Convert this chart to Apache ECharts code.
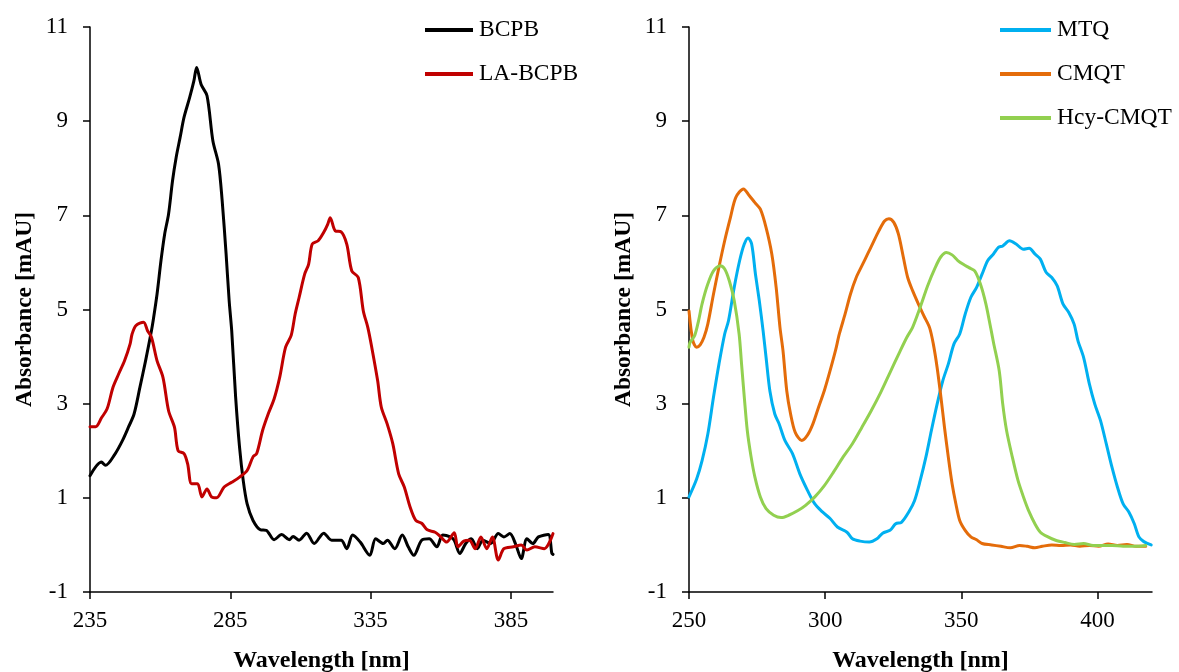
<!DOCTYPE html>
<html>
<head>
<meta charset="utf-8">
<script src="https://cdn.jsdelivr.net/npm/echarts@6/dist/echarts.min.js"></script>
<style>html,body{margin:0;padding:0;background:#fff}#c{width:1179px;height:672px}</style>
</head>
<body>
<div id="c"></div>
<script>
// ---- data (wavelength nm, absorbance mAU) ----
const leftNames = ['BCPB', 'LA-BCPB'];
const rightNames = ['MTQ', 'CMQT', 'Hcy-CMQT'];
const yTicks = [-1, 1, 3, 5, 7, 9, 11];
const leftXTicks = [235, 285, 335, 385];
const rightXTicks = [250, 300, 350, 400];

const bcpb = [[235,1.47],[239.1,1.76],[240.5,1.69],[243.9,1.93],[246.6,2.22],[248.7,2.5],[250.7,2.78],[252.8,3.35],[254.8,3.91],[256.9,4.55],[257.5,4.76],[258.9,5.33],[260.3,6.04],[261.6,6.6],[263,7.03],[264.4,7.73],[265.7,8.23],[267.1,8.65],[268.5,9.08],[270.5,9.5],[272,9.85],[273,10.14],[274.6,9.78],[276.7,9.54],[278.8,8.58],[280.8,8.09],[282.1,7.31],[283.5,6.18],[284.6,5.18],[285.5,4.55],[286.9,3.14],[288.3,2.07],[289.6,1.37],[291,0.87],[293.1,0.52],[295.8,0.32],[297.8,0.31],[300.6,0.11],[303.3,0.22],[306,0.11],[307.4,0.18],[309.5,0.1],[312.2,0.25],[314.9,0.03],[318.3,0.25],[321.1,0.1],[324.5,0.1],[326.5,-0.08],[328.6,0.21],[331.3,0.06],[334.7,-0.22],[336.8,0.13],[339.5,0.03],[341,0.1],[343.6,-0.08],[346.3,0.21],[348.4,-0.04],[350.4,-0.22],[353.2,0.1],[355.9,0.13],[358.6,-0.04],[360.7,0.21],[363.4,0.17],[364.8,0.1],[366.8,-0.18],[368.9,0.03],[370.9,0.13],[373,-0.08],[375,0.1],[377.8,0.03],[380.5,0.24],[382.5,0.17],[384.6,0.24],[386.6,0.03],[388.7,-0.29],[390.7,0.13],[392.8,0.03],[394.8,0.17],[398.3,0.22],[399.6,-0.18],[400,-0.2]];

const laBcpb = [[235,2.51],[237,2.51],[239.1,2.7],[241.1,2.89],[243.2,3.35],[245.2,3.63],[247.3,3.91],[249.3,4.27],[250,4.48],[251.4,4.66],[254.1,4.73],[255.5,4.55],[256.9,4.41],[258.9,3.91],[261,3.56],[263,2.85],[265.1,2.5],[266.4,2.0],[268.5,1.94],[269.8,1.72],[271.2,1.3],[273.3,1.3],[274.9,1.02],[276.7,1.19],[278.3,1.02],[280.1,1.0],[282.8,1.23],[285.5,1.33],[288.3,1.44],[291,1.58],[293.1,1.87],[294.4,1.94],[296.5,2.43],[298.5,2.78],[300.6,3.1],[302.6,3.56],[304.7,4.2],[306.7,4.45],[308.1,4.9],[309.5,5.25],[311.5,5.75],[312.9,5.96],[314.2,6.39],[316.3,6.46],[318.3,6.64],[319.7,6.81],[320.6,6.95],[322.4,6.67],[324.5,6.65],[326.5,6.39],[328.3,5.82],[330.6,5.68],[332.4,4.97],[334,4.62],[335.4,4.2],[337.5,3.49],[338.8,2.93],[340.9,2.57],[342.9,2.15],[345,1.51],[347,1.23],[349.1,0.8],[351.1,0.52],[353.2,0.46],[355.2,0.32],[358,0.27],[360,0.17],[362.1,0.06],[364.8,0.26],[366.1,-0.04],[368.2,0.08],[370.2,0.1],[372.3,-0.08],[374.3,0.17],[376.4,-0.08],[378.4,0.17],[380.5,-0.32],[382.5,-0.08],[385.9,-0.04],[388.7,0],[390.7,-0.11],[393.5,-0.04],[396.9,-0.08],[400,0.24]];

const mtq = [[250,1.02],[252.8,1.4],[254.8,1.79],[256.9,2.35],[259,3.14],[261,3.84],[263.1,4.48],[264.5,4.76],[266.6,5.47],[268.6,6.04],[270.3,6.39],[271.7,6.52],[273,6.39],[274.4,5.75],[275.8,5.19],[277.2,4.55],[278.3,3.98],[279.7,3.27],[281.5,2.78],[283.1,2.57],[285.2,2.22],[288,1.94],[290.7,1.51],[293.5,1.16],[296.2,0.87],[299,0.7],[301.8,0.56],[304.5,0.38],[308,0.27],[310,0.13],[312.8,0.08],[316.2,0.06],[319,0.13],[321.1,0.25],[323.8,0.31],[325.9,0.45],[328,0.48],[330.7,0.7],[332.8,0.94],[334.9,1.37],[337,1.87],[339,2.43],[341.1,2.99],[343.2,3.49],[345.2,3.84],[347.3,4.27],[349.4,4.48],[351.4,4.9],[353.5,5.26],[355.6,5.47],[357.6,5.75],[359.7,6.04],[361.8,6.18],[363.6,6.32],[365.2,6.35],[367.7,6.46],[370.1,6.39],[372.8,6.28],[374.9,6.3],[377,6.18],[379,6.07],[381.1,5.79],[383.2,5.68],[385.2,5.5],[387.3,5.12],[389.4,4.94],[391.4,4.69],[392.8,4.34],[394.9,3.98],[397,3.42],[399,2.99],[401.1,2.64],[403.2,2.15],[405.3,1.65],[407.3,1.23],[409.4,0.87],[411.5,0.7],[413.5,0.45],[415.2,0.17],[417,0.07],[419.7,0.0]];

const cmqt = [[250,4.97],[251.4,4.34],[252.8,4.2],[254.1,4.25],[255.5,4.41],[256.9,4.69],[259,5.33],[261,5.9],[263.1,6.46],[265.2,6.95],[267.2,7.38],[270,7.56],[272.1,7.42],[274.2,7.27],[276.2,7.13],[278.3,6.74],[280.4,6.18],[282,5.47],[283.4,4.62],[284.5,4.13],[285.9,3.27],[287.3,2.78],[289,2.39],[291.4,2.22],[293.5,2.33],[295.5,2.57],[297.6,2.93],[299.7,3.28],[301.8,3.7],[303.8,4.13],[305.2,4.48],[307.3,4.9],[309.3,5.33],[311.4,5.68],[313.5,5.93],[315.6,6.18],[317.6,6.42],[319.7,6.67],[321.8,6.88],[323.4,6.93],[325.2,6.85],[326.9,6.6],[328.7,6.11],[330.3,5.68],[332.1,5.4],[334.2,5.12],[336.2,4.87],[338.3,4.62],[339.7,4.27],[341.1,3.77],[342.5,3.14],[343.8,2.5],[345.2,1.87],[346.6,1.3],[348,0.87],[349.4,0.52],[351.4,0.31],[353.5,0.17],[355.6,0.11],[357.6,0.03],[361.1,0.0],[364.5,-0.03],[368,-0.06],[371.4,-0.01],[374.2,-0.03],[377,-0.06],[379.7,-0.03],[383.2,0],[386.6,-0.01],[390.1,0],[393.5,-0.03],[397,-0.01],[400.4,-0.03],[403.9,0.02],[407.3,-0.01],[410.8,0.01],[414.2,-0.03],[417.7,-0.03]];

const hcyCmqt = [[250,4.2],[250.4,4.3],[252.1,4.45],[253.5,4.76],[254.8,5.12],[256.9,5.54],[259,5.82],[261.5,5.93],[263.1,5.86],[264.8,5.61],[266.6,5.19],[268.4,4.48],[269.3,3.84],[270.3,3.14],[271.4,2.43],[272.8,1.87],[274.2,1.44],[276.2,1.02],[278.3,0.77],[281.1,0.63],[283.8,0.58],[286.6,0.63],[290,0.73],[292.8,0.84],[296.2,1.02],[299.7,1.26],[303.1,1.55],[306.6,1.87],[310,2.15],[313.5,2.5],[316.9,2.85],[320.4,3.24],[323.8,3.66],[327.3,4.09],[330,4.41],[332.1,4.62],[334.9,5.05],[337.6,5.5],[340.4,5.89],[342.5,6.12],[344.5,6.21],[346.6,6.16],[348.7,6.04],[350.7,5.96],[352.8,5.89],[354.9,5.82],[357,5.54],[359,5.12],[360.8,4.6],[361.8,4.3],[363.9,3.7],[365.2,2.99],[366.6,2.43],[368.7,1.87],[370.8,1.37],[372.8,1.02],[374.9,0.7],[377,0.45],[379,0.27],[381.8,0.17],[384.6,0.1],[388,0.05],[391.5,0.01],[394.9,0.03],[398.4,-0.01],[401.8,-0.01],[405.3,-0.01],[409.4,-0.03],[413.5,-0.03],[417.7,-0.01]];

const colors = {
  'BCPB': '#000000', 'LA-BCPB': '#C00000',
  'MTQ': '#00B0F0', 'CMQT': '#E46C0A', 'Hcy-CMQT': '#92D050'
};

// ---- chart ----
const FONT = '"Liberation Serif", "Times New Roman", serif';
const chart = echarts.init(document.getElementById('c'), null, {renderer: 'canvas'});

function xAxis(gi, min, max) {
  return {
    type: 'value', gridIndex: gi, min: min, max: max, interval: 50,
    name: 'Wavelength [nm]', nameLocation: 'middle', nameGap: 57,
    nameTextStyle: {fontFamily: FONT, fontWeight: 'bold', fontSize: 24, color: '#000'},
    axisLine: {show: true, onZero: false, lineStyle: {color: '#000', width: 1.5}},
    axisTick: {show: true, length: 7, lineStyle: {color: '#000', width: 1.5}},
    axisLabel: {fontFamily: FONT, fontSize: 23, color: '#000', margin: 17, showMaxLabel: false},
    splitLine: {show: false}
  };
}
function yAxis(gi) {
  return {
    type: 'value', gridIndex: gi, min: yTicks[0], max: yTicks[yTicks.length - 1], interval: 2,
    name: 'Absorbance [mAU]', nameLocation: 'middle', nameGap: 53,
    nameTextStyle: {fontFamily: FONT, fontWeight: 'bold', fontSize: 23.5, color: '#000'},
    axisLine: {show: true, lineStyle: {color: '#000', width: 1.5}},
    axisTick: {show: true, length: 7, lineStyle: {color: '#000', width: 1.5}},
    axisLabel: {fontFamily: FONT, fontSize: 23, color: '#000', margin: 22},
    splitLine: {show: false}
  };
}
function line(name, data, xi) {
  return {
    name: name, type: 'line', xAxisIndex: xi, yAxisIndex: xi, data: data,
    showSymbol: false, symbol: 'none', smooth: 0.3,
    lineStyle: {color: colors[name], width: 3, cap: 'round', join: 'round'},
    itemStyle: {color: colors[name]}, animation: false, z: 2
  };
}

const legendBase = {
  orient: 'vertical', icon: 'rect', itemHeight: 4, itemGap: 20,
  textStyle: {fontFamily: FONT, fontSize: 23.5, color: '#000', padding: [0,0,0,1]}
};

chart.setOption({
  animation: false,
  backgroundColor: '#fff',
  grid: [
    {left: 90, top: 27, width: 463, height: 565, containLabel: false, outerBoundsMode: 'none'},
    {left: 689, top: 27, width: 463, height: 565, containLabel: false, outerBoundsMode: 'none'}
  ],
  xAxis: [xAxis(0, leftXTicks[0], 400), xAxis(1, rightXTicks[0], 420)],
  yAxis: [yAxis(0), yAxis(1)],
  legend: [
    Object.assign({}, legendBase, {data: leftNames, left: 420, top: 13, itemWidth: 48}),
    Object.assign({}, legendBase, {data: rightNames, left: 995, top: 13, itemWidth: 51})
  ],
  series: [
    line('BCPB', bcpb, 0),
    line('LA-BCPB', laBcpb, 0),
    line('MTQ', mtq, 1),
    line('CMQT', cmqt, 1),
    line('Hcy-CMQT', hcyCmqt, 1)
  ]
});
</script>
</body>
</html>
